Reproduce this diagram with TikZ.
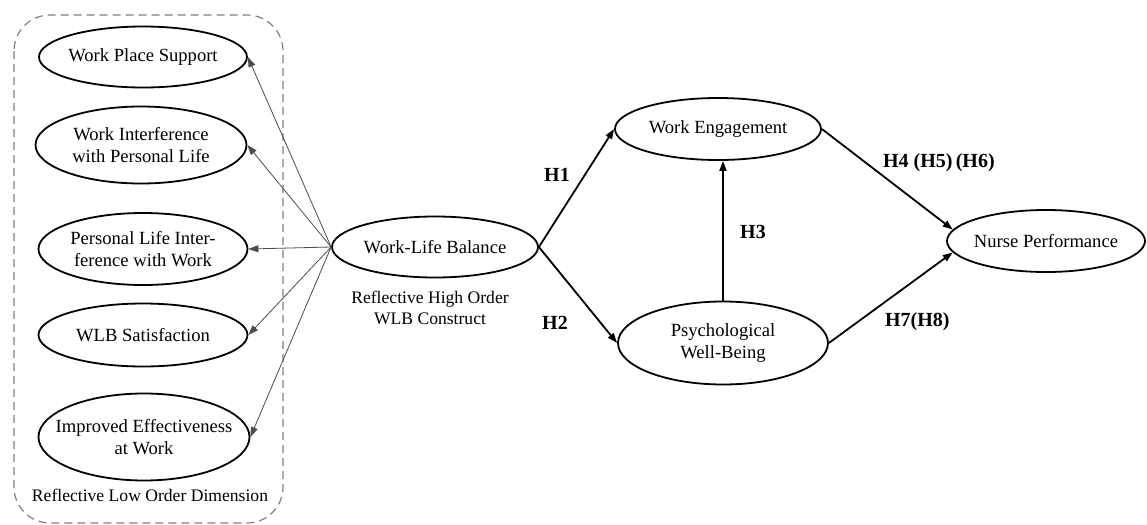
\documentclass[tikz,border=0pt]{standalone}
\usepackage{fontspec}
\setmainfont{Liberation Serif}
\usetikzlibrary{shapes.geometric,arrows.meta}
\begin{document}
\begin{tikzpicture}[x=0.5pt,y=-0.5pt,
    latent/.style={ellipse,draw,line width=0.9pt,inner sep=-12pt,align=center,
        font=\fontsize{9.3}{11}\selectfont},
    thinarr/.style={-{Triangle[length=5pt,width=3.5pt]},gray!60!black,line width=0.4pt},
    patharr/.style={-{Triangle[length=5pt,width=3.5pt]},line width=0.9pt},
    hyp/.style={font=\bfseries\fontsize{10}{12}\selectfont},
    note/.style={font=\fontsize{8.8}{10.5}\selectfont,align=center}]
    \useasboundingbox (0,0) rectangle (1147,525);

    % 虚线框（低阶维度）
    \draw[gray, dash pattern=on 4pt off 2.5pt, line width=0.6pt, rounded corners=18pt]
        (14,15) rectangle (283,523);

    % 低阶维度
    \node[latent, minimum width=104pt, minimum height=30.5pt] (wps) at (143,57) {Work Place Support};
    \node[latent, minimum width=105.5pt, minimum height=38.5pt] (wipl) at (141,145) {Work Interference\\with Personal Life};
    \node[latent, minimum width=104.5pt, minimum height=36pt] (pliw) at (143,249) {Personal Life Inter-\\ference with Work};
    \node[latent, minimum width=104.5pt, minimum height=31.5pt] (wlbs) at (143,335) {WLB Satisfaction};
    \node[latent, minimum width=105.5pt, minimum height=43.5pt] (iew) at (144,437) {Improved Effectiveness\\at Work};
    \node[note] (low) at (150,495) {Reflective Low Order Dimension};

    % 高阶构念
    \node[latent, minimum width=103pt, minimum height=30.5pt] (wlb) at (435,247) {Work-Life Balance};
    \node[note] (high) at (430,308) {Reflective High Order\\WLB Construct};

    % 中介变量与结果
    \node[latent, minimum width=103pt, minimum height=31pt] (we) at (718,129) {Work Engagement};
    \node[latent, minimum width=105pt, minimum height=41.5pt] (pwb) at (723,343) {Psychological\\Well-Being};
    \node[latent, minimum width=99pt, minimum height=31pt] (np) at (1046,241) {Nurse Performance};

    % 反映性指标箭头
    \foreach \d in {wps,wipl,pliw,wlbs,iew}
        \draw[thinarr] (wlb.west) -- (\d.east);

    % 路径
    \draw[patharr] (wlb.east) -- (we.west);
    \draw[patharr] (wlb.east) -- (pwb.west);
    \draw[patharr] (pwb.north) -- (pwb.north |- we.south);
    \draw[patharr] (we.east) -- (np.173);
    \draw[patharr] (pwb.east) -- (np.187);

    % 假设标注
    \node[hyp] (h1) at (557,175) {H1};
    \node[hyp] (h2) at (555,323) {H2};
    \node[hyp] (h3) at (753,232) {H3};
    \node[hyp, anchor=west] (h4) at (876,163) {H4 (H5)\,(H6)};
    \node[hyp, anchor=west] (h7) at (878,322) {H7(H8)};
\end{tikzpicture}
\end{document}
